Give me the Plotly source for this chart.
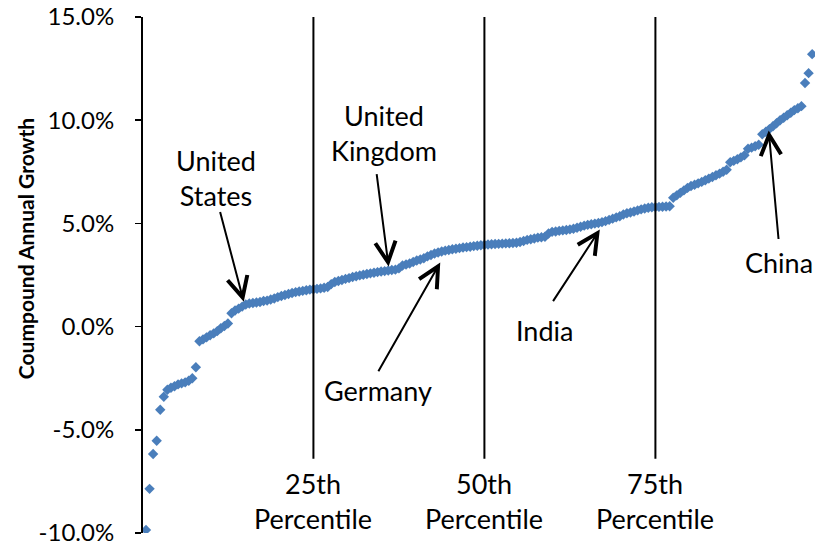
import plotly.graph_objects as go

# ---- data ----
growth_pct = [
    -9.85, -7.86, -6.17, -5.53, -4.03, -3.40, -3.06, -2.96, -2.89, -2.80,
    -2.75, -2.70, -2.62, -2.50, -1.97, -0.71, -0.62, -0.52, -0.42, -0.33,
    -0.22, -0.08, 0.03, 0.15, 0.65, 0.78, 0.87, 0.97, 1.07, 1.12,
    1.14, 1.17, 1.19, 1.24, 1.26, 1.31, 1.36, 1.43, 1.48, 1.53,
    1.58, 1.63, 1.67, 1.70, 1.73, 1.76, 1.79, 1.81, 1.83, 1.85,
    1.88, 1.92, 2.06, 2.16, 2.21, 2.26, 2.31, 2.35, 2.40, 2.44,
    2.48, 2.51, 2.55, 2.58, 2.61, 2.64, 2.67, 2.69, 2.72, 2.74,
    2.76, 2.82, 2.96, 3.01, 3.06, 3.13, 3.20, 3.25, 3.31, 3.40,
    3.47, 3.54, 3.59, 3.64, 3.68, 3.71, 3.75, 3.77, 3.80, 3.83,
    3.85, 3.87, 3.90, 3.92, 3.94, 3.96, 3.98, 3.99, 4.00, 4.01,
    4.02, 4.03, 4.04, 4.05, 4.06, 4.10, 4.15, 4.20, 4.23, 4.27,
    4.31, 4.33, 4.35, 4.51, 4.59, 4.61, 4.64, 4.66, 4.68, 4.71,
    4.74, 4.79, 4.84, 4.89, 4.93, 4.96, 4.99, 5.02, 5.06, 5.11,
    5.17, 5.23, 5.29, 5.35, 5.43, 5.49, 5.53, 5.58, 5.63, 5.68,
    5.72, 5.76, 5.78, 5.79, 5.80, 5.81, 5.82, 5.83, 6.24, 6.36,
    6.48, 6.60, 6.72, 6.81, 6.87, 6.94, 7.01, 7.09, 7.17, 7.25,
    7.33, 7.41, 7.50, 7.60, 7.96, 8.03, 8.11, 8.20, 8.30, 8.62,
    8.67, 8.74, 8.81, 9.32, 9.44, 9.57, 9.71, 9.85, 10.00, 10.12,
    10.24, 10.36, 10.49, 10.58, 10.68, 11.80, 12.28, 13.20,
]
rank = list(range(1, len(growth_pct) + 1))

n_countries = 192
percentiles = [25, 50, 75]
percentile_labels = ["25th<br>Percentile", "50th<br>Percentile", "75th<br>Percentile"]

y_ticks = [-10, -5, 0, 5, 10, 15]
y_tick_text = ["-10.0%", "-5.0%", "0.0%", "5.0%", "10.0%", "15.0%"]

y_title = "Coumpound Annual Growth"

# ---- figure ----
FONT = "Lato"
ANN_SIZE = 27
fig = go.Figure()

fig.add_trace(go.Scatter(
    x=rank, y=growth_pct, mode="markers",
    marker=dict(symbol="diamond", size=8, color="#4A7EBB", line=dict(width=0)),
    showlegend=False, hoverinfo="skip",
))

shapes = []
annotations = []
for p, lab in zip(percentiles, percentile_labels):
    px = p / 100 * n_countries
    shapes.append(dict(type="line", xref="x", yref="y", x0=px, x1=px, y0=-6.4, y1=15,
                       line=dict(color="black", width=2)))
    annotations.append(dict(x=px, y=-8.45, xref="x", yref="y", text=lab, showarrow=False,
                            font=dict(family=FONT, size=ANN_SIZE, color="black"), align="center"))

labels = [
    # text, text_x, text_y, tail_x, tail_y, tip_x, tip_y, xanchor
    ("United<br>States", 20.6, 7.22, 21.7, 5.62, 28.45, 1.21, "center"),
    ("United<br>Kingdom", 67.9, 9.40, 65.7, 7.46, 69.1, 2.91, "center"),
    ("Germany", 66.0, -3.10, 66.0, -2.23, 83.6, 3.10, "center"),
    ("India", 112.8, -0.19, 115.0, 1.16, 128.4, 4.70, "center"),
    ("China", 188.8, 3.10, 178.6, 4.17, 175.8, 9.50, "right"),
]
for text, tx, ty, ax, ay, hx, hy, xa in labels:
    annotations.append(dict(x=tx, y=ty, xref="x", yref="y", text=text, showarrow=False,
                            xanchor=xa, yanchor="middle", align="center",
                            font=dict(family=FONT, size=ANN_SIZE, color="black")))
    annotations.append(dict(x=hx, y=hy, ax=ax, ay=ay, xref="x", yref="y", axref="x", ayref="y",
                            text="", showarrow=True, arrowhead=5, arrowsize=2, arrowwidth=2,
                            arrowcolor="black", standoff=0, startstandoff=0))

# y-axis title as rotated annotation
annotations.append(dict(x=0, y=0.55, xref="paper", yref="paper", xshift=-118,
                        text="<b>" + y_title + "</b>", textangle=-90, showarrow=False,
                        xanchor="center", yanchor="middle",
                        font=dict(family=FONT, size=21, color="black")))

fig.update_layout(
    width=815, height=544,
    margin=dict(l=143, r=0, t=17, b=11, autoexpand=False),
    paper_bgcolor="white", plot_bgcolor="white",
    font=dict(family=FONT, color="black"),
    shapes=shapes, annotations=annotations,
    showlegend=False,
)
fig.update_xaxes(range=[0.16, 188.8], visible=False, showgrid=False, zeroline=False,
                 automargin=False)
fig.update_yaxes(
    range=[-10, 15], tickvals=y_ticks, ticktext=y_tick_text,
    showgrid=False, zeroline=False, automargin=False,
    showline=True, linecolor="black", linewidth=2,
    ticks="outside", ticklen=6, tickwidth=1.5, tickcolor="black",
    ticklabelstandoff=16, ticklabeloverflow="allow",
    tickfont=dict(family=FONT, size=24, color="black"),
)

fig.write_html(
    "out.html",
    config={"displayModeBar": False, "staticPlot": True},
    post_script="document.body.style.margin='0';document.body.style.overflow='hidden';",
)
